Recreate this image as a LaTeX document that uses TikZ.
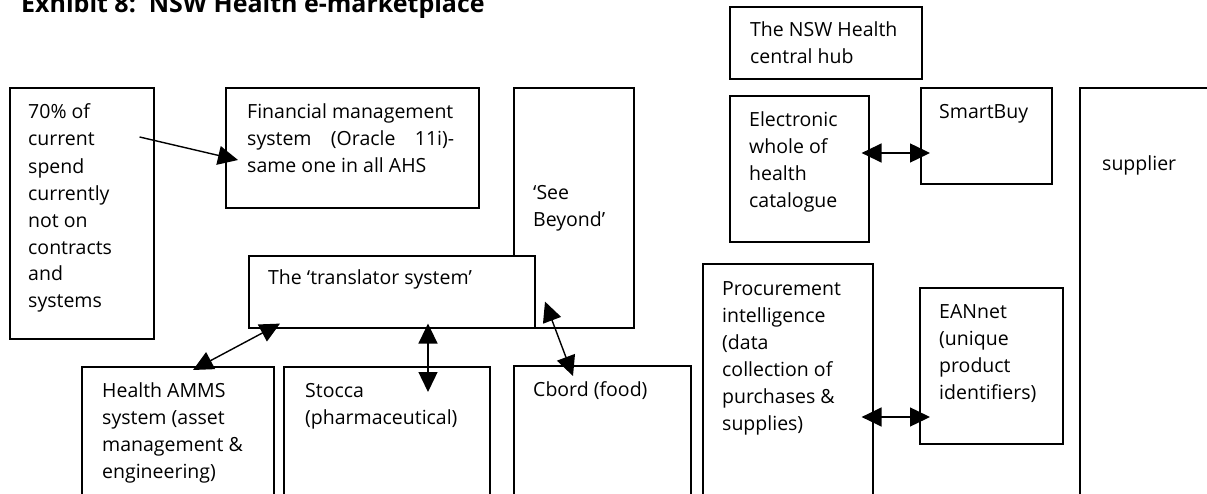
\documentclass[tikz,border=0pt]{standalone}
\usepackage{fontspec}
\setmainfont{Open Sans}
\usetikzlibrary{arrows.meta}
\tikzset{
  head/.tip = {Triangle[length=20pt,width=19pt]},
  box/.style = {draw, line width=1.6pt, fill=white, anchor=north west, inner sep=0pt},
  boxtext/.style = {anchor=base west, align=left, inner sep=0pt, font=\fontsize{19.5}{27}\selectfont},
  link/.style = {line width=1.4pt, -head},
  twoway/.style = {line width=1.4pt, head-head}
}

\begin{document}
\begin{tikzpicture}[x=1pt,y=1pt]
  \useasboundingbox (0,0) rectangle (1207,493);

  \node[anchor=base west, inner sep=0pt, font=\fontsize{25}{30}\selectfont\bfseries] (title) at (21,480) {Exhibit 8:\ \ NSW Health e-marketplace};

  % area health services side (label yshift goes to the last line's baseline)
  \node[box, minimum width=144pt, minimum height=251pt,
    label={[boxtext,xshift=19pt,yshift=-221pt]north west:{70\% of\\current\\spend\\currently\\not on\\contracts\\and\\systems}}] (spend) at (9,406) {};
  \node[box, minimum width=253pt, minimum height=120pt,
    label={[boxtext,xshift=22pt,yshift=-86pt]north west:{Financial management\\\makebox[207pt][s]{system (Oracle 11i)-}\\same one in all AHS}}] (fin) at (225,406) {};
  \node[box, minimum width=120pt, minimum height=240pt,
    label={[boxtext,xshift=20pt,yshift=-140pt]north west:{`See\\Beyond'}}] (seeb) at (513,406) {};
  \node[box, minimum width=286pt, minimum height=72pt,
    label={[boxtext,xshift=20pt,yshift=-30pt]north west:{The `translator system'}}] (trans) at (248,238) {};

  \node[box, minimum width=192pt, minimum height=150pt,
    label={[boxtext,xshift=21pt,yshift=-112pt]north west:{Health AMMS\\system (asset\\management \&\\engineering)}}] (amms) at (81,127) {};
  \node[box, minimum width=206pt, minimum height=150pt,
    label={[boxtext,xshift=22pt,yshift=-58pt]north west:{Stocca\\(pharmaceutical)}}] (stocca) at (283,127) {};
  \node[box, minimum width=177pt, minimum height=150pt,
    label={[boxtext,xshift=20pt,yshift=-31pt]north west:{Cbord (food)}}] (cbord) at (513,128) {};

  % central hub side
  \node[box, minimum width=192pt, minimum height=72pt,
    label={[boxtext,xshift=21pt,yshift=-58pt]north west:{The NSW Health\\central hub}}] (hub) at (729,487) {};
  \node[box, minimum width=139pt, minimum height=146pt,
    label={[boxtext,xshift=20pt,yshift=-113pt]north west:{Electronic\\whole of\\health\\catalogue}}] (elec) at (729,398) {};
  \node[box, minimum width=131pt, minimum height=96pt,
    label={[boxtext,xshift=19pt,yshift=-32pt]north west:{SmartBuy}}] (smart) at (920,406) {};
  \node[box, minimum width=170pt, minimum height=260pt,
    label={[boxtext,xshift=20pt,yshift=-167pt]north west:{Procurement\\intelligence\\(data\\collection of\\purchases \&\\supplies)}}] (proc) at (702,230) {};
  \node[box, minimum width=143pt, minimum height=156pt,
    label={[boxtext,xshift=20pt,yshift=-112pt]north west:{EANnet\\(unique\\product\\identifiers)}}] (ean) at (919,206) {};
  \node[box, minimum width=160pt, minimum height=450pt,
    label={[boxtext,xshift=23pt,yshift=-84pt]north west:{supplier}}] (supp) at (1079,406) {};

  % links
  \draw[link] ([xshift=-15pt,yshift=-50pt]spend.north east) -- ([xshift=13pt,yshift=-73pt]fin.north west);
  \draw[twoway] ([xshift=112pt,yshift=-4pt]amms.north west) -- ([xshift=32pt,yshift=5pt]trans.south west);
  \draw[twoway] ([xshift=145pt,yshift=-26pt]stocca.north west) -- ([xshift=180pt,yshift=5pt]trans.south west);
  \draw[twoway] ([xshift=60pt,yshift=-11pt]cbord.north west) -- ([xshift=32pt,yshift=27pt]seeb.south west);
  \draw[twoway] ([xshift=-8pt,yshift=-58pt]elec.north east) -- ([xshift=10pt,yshift=-66pt]smart.north west);
  \draw[twoway] ([xshift=-12pt,yshift=-154pt]proc.north east) -- ([xshift=11pt,yshift=-130pt]ean.north west);
\end{tikzpicture}
\end{document}
